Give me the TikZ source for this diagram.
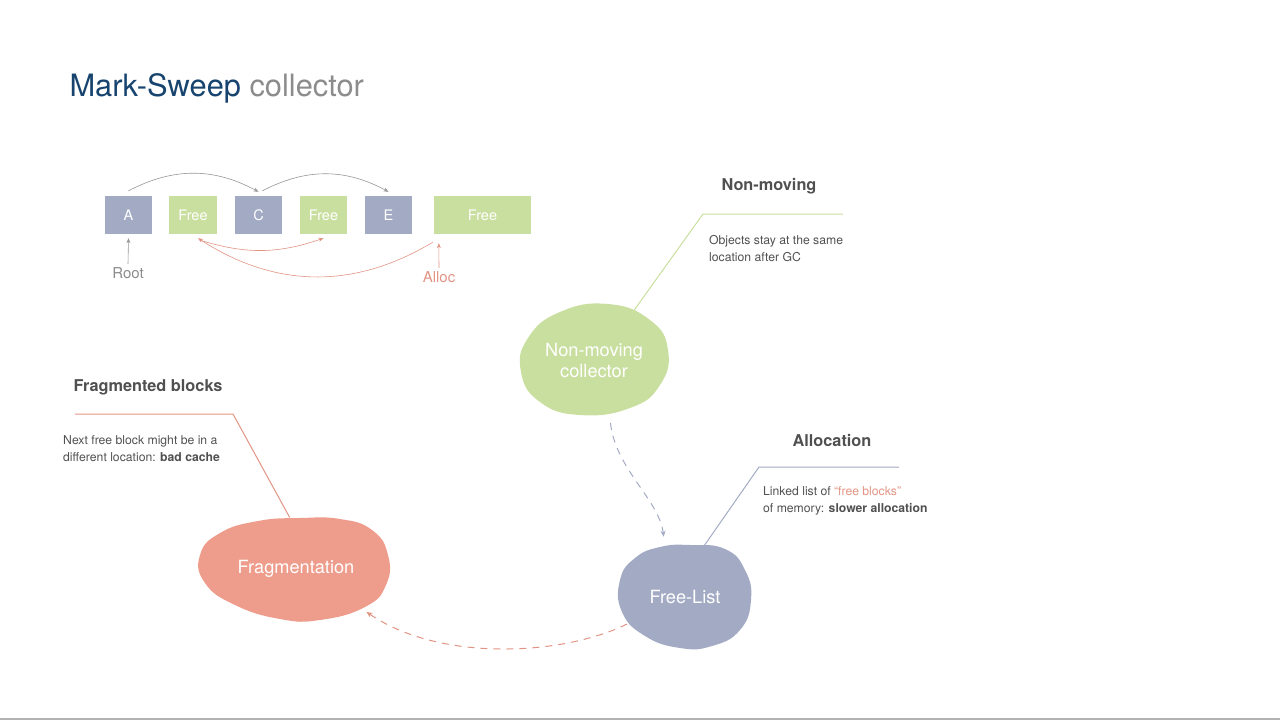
\documentclass[tikz,border=0pt]{standalone}
\usepackage{fontspec}
\setmainfont{TeX Gyre Heros}
\usetikzlibrary{
    arrows.meta,
    positioning,
    shapes.geometric
}
\definecolor{slate}{RGB}{163,171,196}
\definecolor{leaf}{RGB}{201,223,159}
\definecolor{salmon}{RGB}{238,156,140}
\definecolor{salmonline}{RGB}{226,148,132}
\definecolor{titleblue}{RGB}{23,68,110}
\definecolor{softgray}{RGB}{140,140,140}
\definecolor{ptrgray}{RGB}{150,150,150}
\definecolor{inkgray}{RGB}{80,80,80}
\definecolor{rulegray}{RGB}{178,178,178}

\tikzset{
    cell/.style={minimum height=38pt, minimum width=47pt, inner sep=0pt,
        text=white, font=\fontsize{14.5}{16}\selectfont},
    used/.style={cell, fill=slate},
    free/.style={cell, fill=leaf},
    ptr/.style={ptrgray, line width=0.6pt, -{Stealth[length=5pt,width=4pt]}},
    fptr/.style={salmonline, line width=0.6pt, -{Stealth[length=5pt,width=4pt]}},
    blob/.style={ellipse, inner sep=0pt, text=white, align=center,
        font=\fontsize{18.2}{21}\selectfont},
    heading/.style={text=inkgray, font=\bfseries\fontsize{16.3}{19}\selectfont},
    note/.style={text=inkgray, align=left, inner sep=0pt, anchor=north west,
        font=\fontsize{12.2}{17.5}\selectfont},
    flow/.style={dashed, dash pattern=on 7pt off 6pt, line width=1pt,
        -{Stealth[length=6pt,width=5pt]}}
}

\begin{document}
\begin{tikzpicture}[x=1pt,y=-1pt]
    \useasboundingbox (0,0) rectangle (1280,720);

    % title
    \node[anchor=west, font=\fontsize{30.8}{34}\selectfont] (title) at (66,88)
        {\color{titleblue}Mark-Sweep \color{softgray}collector};

    % heap blocks
    \node[used] (A) at (128.5,215) {A};
    \node[free, minimum width=48pt] (F1) at (193,215) {Free};
    \node[used] (C) at (258.5,215) {C};
    \node[free] (F2) at (323.5,215) {Free};
    \node[used] (E) at (388.5,215) {E};
    \node[free, minimum width=97pt] (F3) at (482.5,215) {Free};

    \draw[ptr] ([yshift=5pt]A.north) to[bend left=28] ([yshift=4pt]C.north);
    \draw[ptr] ([xshift=4pt,yshift=5pt]C.north) to[bend left=28] ([yshift=4pt]E.north);
    \draw[fptr] ([xshift=7pt,yshift=-6pt]F1.south) to[bend right=18] ([yshift=-4pt]F2.south);
    \draw[fptr] ([xshift=-1pt,yshift=-8pt]F3.south west) to[bend left=32] ([xshift=5pt,yshift=-4pt]F1.south);

    \node[text=softgray, font=\fontsize{15}{17}\selectfont] (root) at (128,273) {Root};
    \node[text=salmonline, font=\fontsize{15}{17}\selectfont] (alloc) at (439,277) {Alloc};
    \draw[ptr] (root.north) -- ([yshift=-4pt]A.south);
    \draw[fptr] (alloc.north) -- ([xshift=5pt,yshift=-9pt]F3.south west);

    % blobs
    \fill[leaf] plot[smooth cycle, tension=0.8] coordinates {
        (608,304) (650,320) (668,350) (660,385) (630,408) (580,415)
        (540,402) (521,372) (528,338) (560,312) };
    \fill[slate] plot[smooth cycle, tension=0.8] coordinates {
        (690,545) (725,549) (745,570) (751,600) (740,630) (712,646)
        (680,648) (645,636) (622,612) (620,580) (635,558) (660,547) };
    \fill[salmon] plot[smooth cycle, tension=0.8] coordinates {
        (300,518) (340,519) (372,530) (388,555) (386,585) (365,607)
        (320,620) (280,619) (235,605) (205,583) (200,555) (220,533) (258,521) };

    \node[blob, minimum width=148pt, minimum height=110pt] (nmc) at (594,360)
        {Non-moving\\collector};
    \node[blob, minimum width=133pt, minimum height=103pt] (fl) at (685,597) {Free-List};
    \node[blob, minimum width=190pt, minimum height=103pt] (frag) at (296,569) {Fragmentation};

    % call-outs
    \node[heading] (nmhead) at (769,186) {Non-moving};
    \coordinate (nmknee) at (703,214);
    \coordinate (nmend) at (843,214);
    \draw[leaf, line width=1pt, shorten <=3pt] (nmc.51) -- (nmknee) -- (nmend);
    \node[note] (nmnote) at (709,235) {Objects stay at the same\\location after GC};

    \node[heading] (alhead) at (832,440) {Allocation};
    \coordinate (alknee) at (759,467);
    \coordinate (alend) at (899,467);
    \draw[slate, line width=1pt] (fl.70) -- (alknee) -- (alend);
    \node[note] (alnote) at (763,486)
        {Linked list of {\color{salmonline}“free blocks”}\\of memory: \textbf{slower allocation}};

    \node[heading, anchor=west] (frhead) at (70,387) {Fragmented blocks};
    \coordinate (frknee) at (233,414);
    \coordinate (frend) at (75,414);
    \draw[salmonline, line width=1pt] (frag.97) -- (frknee) -- (frend);
    \node[note] (frnote) at (63,435)
        {Next free block might be in a\\different location: \textbf{bad cache}};

    % flow between the blobs
    \draw[flow, slate, shorten <=9pt, shorten >=11pt] (nmc.-74)
        .. controls +(6,55) and +(-6,-48) .. (fl.112);
    \draw[flow, salmonline, shorten <=1pt, shorten >=8pt] (fl.-155)
        .. controls +(-65,32) and +(80,55) .. (frag.-31);

    % bottom rule
    \draw[rulegray, line width=1.5pt] (0,719) -- (1280,719);
\end{tikzpicture}
\end{document}
